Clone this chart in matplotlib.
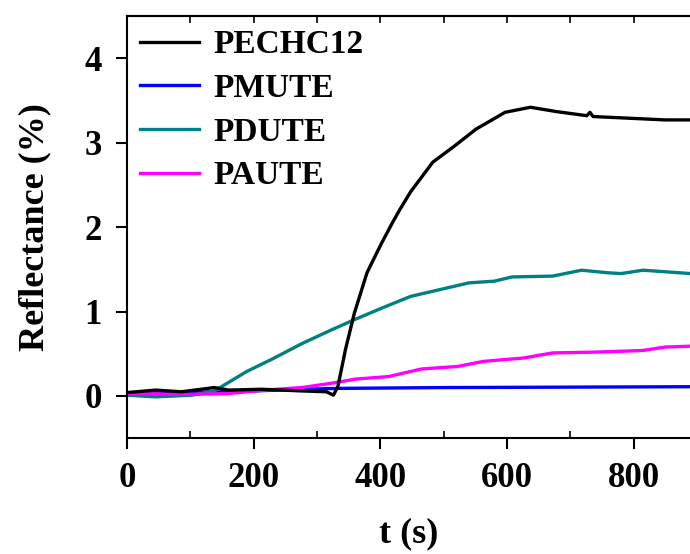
import numpy as np
import matplotlib.pyplot as plt
from matplotlib.ticker import MultipleLocator

plt.rcParams['font.family'] = ['Liberation Serif', 'DejaVu Serif']
plt.rcParams['font.weight'] = 'bold'

# values
t_pechc = [0, 45, 86, 138, 161, 212, 276, 315, 326, 333, 345, 359, 379, 402, 419,
           431, 448, 483, 517, 551, 597, 637, 677, 726, 731, 736, 793, 850, 890]
r_pechc = [0.04, 0.07, 0.05, 0.10, 0.07, 0.08, 0.06, 0.05, 0.01, 0.11, 0.55, 0.98, 1.46, 1.81, 2.05,
           2.21, 2.42, 2.77, 2.96, 3.16, 3.36, 3.42, 3.37, 3.32, 3.36, 3.31, 3.29, 3.27, 3.27]

t_pmute = [0, 161, 276, 333, 500, 890]
r_pmute = [0.04, 0.05, 0.08, 0.09, 0.10, 0.11]

t_pdute = [0, 45, 103, 138, 189, 230, 276, 322, 361, 402, 448, 494, 540, 580, 608,
           672, 718, 758, 780, 815, 890]
r_pdute = [0.01, -0.01, 0.01, 0.06, 0.29, 0.44, 0.62, 0.78, 0.91, 1.04, 1.18, 1.26, 1.34, 1.36, 1.41,
           1.42, 1.49, 1.46, 1.45, 1.49, 1.45]

t_paute = [0, 103, 161, 218, 276, 322, 361, 413, 465, 522, 563, 626, 672, 740, 781, 815, 850, 890]
r_paute = [0.03, 0.02, 0.03, 0.07, 0.10, 0.15, 0.20, 0.23, 0.32, 0.35, 0.41, 0.45, 0.51, 0.52, 0.53,
           0.54, 0.58, 0.59]

series = [
    ('PECHC12', t_pechc, r_pechc, '#000000'),
    ('PMUTE', t_pmute, r_pmute, '#0000FF'),
    ('PDUTE', t_pdute, r_pdute, '#008080'),
    ('PAUTE', t_paute, r_paute, '#FF00FF'),
]

fig = plt.figure(figsize=(6.9, 5.54), dpi=100)
ax = fig.add_axes([0.184, 0.209, 0.816, 0.762])

for name, t, r, c in series:
    ax.plot(t, r, color=c, lw=2.4, label=name, zorder=3 if c == '#000000' else 2)

ax.set_xlim(0, 889)
ax.set_ylim(-0.5, 4.5)
ax.xaxis.set_major_locator(MultipleLocator(200))
ax.xaxis.set_minor_locator(MultipleLocator(100))
ax.yaxis.set_major_locator(MultipleLocator(1))

for s in ['left', 'bottom', 'top']:
    ax.spines[s].set_linewidth(1.5)
ax.spines['right'].set_visible(False)

ax.tick_params(axis='x', which='major', direction='out', length=8, width=1.5,
               labelsize=25, pad=9, top=False)
ax.tick_params(axis='x', which='minor', direction='in', length=5, width=1.2, top=False)
ax.tick_params(axis='y', which='major', direction='out', length=8, width=1.5,
               labelsize=25, pad=10, right=False)

top = ax.secondary_xaxis('top')
top.xaxis.set_major_locator(MultipleLocator(100))
top.tick_params(direction='in', length=5, width=1.2, labeltop=False)
top.spines['top'].set_linewidth(1.5)

ax.set_xlabel('t (s)', fontsize=26, fontweight='bold', labelpad=16)
ax.set_ylabel('Reflectance (%)', fontsize=26, fontweight='bold', labelpad=24)

leg = ax.legend(loc='upper left', frameon=False, handlelength=1.75,
                handletextpad=0.45, labelspacing=0.38, borderaxespad=0.1,
                borderpad=0.3, prop={'weight': 'bold', 'size': 24})

fig.savefig('out.png', dpi=100)
